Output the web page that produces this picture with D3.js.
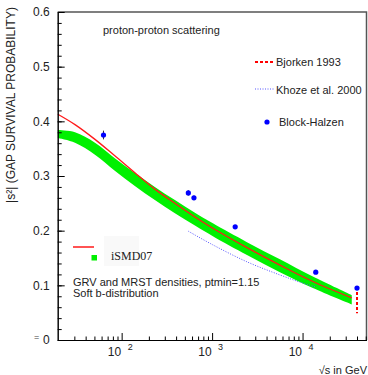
<!DOCTYPE html>
<html lang="en">
<head>
<meta charset="utf-8">
<title>Gap survival probability</title>
<style>
  body { margin: 0; background: #fff; }
  svg { display: block; font-family: "Liberation Sans", Arial, sans-serif; }
</style>
</head>
<body>
<svg width="368" height="375"></svg>
<script src="https://cdn.jsdelivr.net/npm/d3@7"></script>
<script>
// iSMD07 curve and green band
var sqrtS   = [19.7, 30.5, 50.7, 84, 140, 233, 388, 646, 1020, 2430, 5620, 13000, 35000];
var ismdRed = [0.413, 0.394, 0.367, 0.337, 0.306, 0.276, 0.250, 0.225, 0.2045, 0.169, 0.137, 0.107, 0.077];
var bandHi  = [0.384, 0.380, 0.361, 0.3325, 0.3055, 0.280, 0.256, 0.233, 0.2135, 0.179, 0.1476, 0.116, 0.082];
var bandLo  = [0.3695, 0.361, 0.339, 0.3096, 0.2817, 0.256, 0.232, 0.2095, 0.190, 0.1555, 0.124, 0.095, 0.065];

// Khoze et al. 2000
var khozeS   = [546, 1020, 2430, 5620, 9300, 14000];
var khozeGap = [0.199, 0.174, 0.143, 0.119, 0.106, 0.097];

// Block-Halzen points
var bhS   = [63, 546, 630, 1800, 14000, 40000];
var bhGap = [0.375, 0.269, 0.26, 0.207, 0.124, 0.095];
var bhErr = [0.008, 0.005, 0.004, 0.002, 0.002, 0.002];

// Bjorken 1993 range
var bjS = 40000;
var bjRange = [0.049, 0.088];

var yMajor = [0, 0.1, 0.2, 0.3, 0.4, 0.5, 0.6];
var xMajor = [100, 1000, 10000];
var xMinor = [30, 40, 50, 60, 70, 80, 90, 200, 300, 400, 500, 600, 700, 800, 900,
              2000, 3000, 4000, 5000, 6000, 7000, 8000, 9000, 20000, 30000, 40000, 50000];

var svg = d3.select("svg");
var pLeft = 57.7, pRight = 366.5, pTop = 12, pBottom = 340;

var x = d3.scaleLog().domain([Math.pow(10, 1.293), Math.pow(10, 4.707)]).range([pLeft, pRight]);
var y = d3.scaleLinear().domain([0, 0.6]).range([pBottom, pTop]);
var smooth = d3.curveCatmullRom.alpha(0.5);

// frame (top and right, grey)
svg.append("path")
    .attr("d", "M" + pLeft + "," + pTop + "H" + pRight + "V" + pBottom)
    .attr("fill", "none").attr("stroke", "#555").attr("stroke-width", 1.5);

// band
var band = sqrtS.map(function(s, i) { return {s: s, hi: bandHi[i], lo: bandLo[i]}; });
svg.append("path")
    .datum(band)
    .attr("fill", "#00f000")
    .attr("d", d3.area()
      .x(function(d) { return x(d.s); })
      .y0(function(d) { return y(d.lo); })
      .y1(function(d) { return y(d.hi); })
      .curve(smooth));

// Khoze dotted
svg.append("path")
    .datum(khozeS.map(function(s, i) { return [s, khozeGap[i]]; }))
    .attr("fill", "none").attr("stroke", "#5555ff").attr("stroke-width", 1)
    .attr("stroke-dasharray", "1,1.5")
    .attr("d", d3.line()
      .x(function(d) { return x(d[0]); })
      .y(function(d) { return y(d[1]); })
      .curve(smooth));

// red iSMD07 line
svg.append("path")
    .datum(sqrtS.map(function(s, i) { return [s, ismdRed[i]]; }))
    .attr("fill", "none").attr("stroke", "#ff1a1a").attr("stroke-width", 1.3)
    .attr("d", d3.line()
      .x(function(d) { return x(d[0]); })
      .y(function(d) { return y(d[1]); })
      .curve(smooth));

// Bjorken range
svg.append("line")
    .attr("x1", x(bjS)).attr("x2", x(bjS))
    .attr("y1", y(bjRange[1])).attr("y2", y(bjRange[0]))
    .attr("stroke", "#ff0000").attr("stroke-width", 2).attr("stroke-dasharray", "3,2");

// Block-Halzen points
var pts = svg.append("g");
bhS.forEach(function(s, i) {
  pts.append("line")
      .attr("x1", x(s)).attr("x2", x(s))
      .attr("y1", y(bhGap[i] - bhErr[i])).attr("y2", y(bhGap[i] + bhErr[i]))
      .attr("stroke", "#333").attr("stroke-width", 1);
  pts.append("circle")
      .attr("cx", x(s)).attr("cy", y(bhGap[i])).attr("r", 2.6)
      .attr("fill", "#0000ff");
});

// axes
var yAx = svg.append("g").attr("transform", "translate(" + pLeft + ",0)")
    .call(d3.axisLeft(y).tickValues(yMajor).tickSizeInner(-7).tickSizeOuter(0)
      .tickPadding(8).tickFormat(function(d) { return d === 0 ? "0" : d3.format(".1f")(d); }));
svg.append("g").attr("transform", "translate(" + pLeft + ",0)")
    .call(d3.axisLeft(y).tickValues(d3.range(0, 0.6, 0.02)).tickSizeInner(-4).tickSizeOuter(0).tickFormat(""));

svg.append("g").attr("transform", "translate(0," + pBottom + ")")
    .call(d3.axisBottom(x).tickValues(xMajor).tickSizeInner(-7).tickSizeOuter(0).tickFormat(""));
svg.append("g").attr("transform", "translate(0," + pBottom + ")")
    .call(d3.axisBottom(x).tickValues(xMinor).tickSizeInner(-3.5).tickSizeOuter(0).tickFormat(""));

svg.selectAll(".domain").attr("stroke", "#000");
svg.selectAll(".tick line").attr("stroke", "#000");
yAx.selectAll("text").attr("font-size", 12).attr("fill", "#222")
    .attr("font-family", "Liberation Sans, Arial, sans-serif");

// x tick labels 10^n
xMajor.forEach(function(v) {
  svg.append("text").attr("x", x(v) - 0.5).attr("y", 356)
      .attr("text-anchor", "end").attr("font-size", 12).attr("fill", "#222").text("10");
  svg.append("text").attr("x", x(v) + 6).attr("y", 350)
      .attr("font-size", 9).attr("fill", "#222").text(Math.round(Math.log10(v)));
});

svg.append("text").attr("x", 34).attr("y", 340).attr("font-size", 9).attr("fill", "#444").text("=");

svg.append("text").attr("x", 367).attr("y", 374).attr("text-anchor", "end")
    .attr("font-size", 11).attr("fill", "#222").text("\u221As in GeV");

svg.append("text").attr("transform", "translate(15,105) rotate(-90)")
    .attr("text-anchor", "middle").attr("font-size", 12).attr("fill", "#222")
    .text("|s\u00B2| (GAP SURVIVAL PROBABILITY)");

// labels and legend
svg.append("text").attr("x", 103).attr("y", 34).attr("font-size", 11).attr("fill", "#222")
    .text("proton-proton scattering");

svg.append("line").attr("x1", 255).attr("x2", 275).attr("y1", 62).attr("y2", 62)
    .attr("stroke", "#ff0000").attr("stroke-width", 2).attr("stroke-dasharray", "3,2");
svg.append("text").attr("x", 276).attr("y", 66).attr("font-size", 11).attr("fill", "#222").text("Bjorken 1993");

svg.append("line").attr("x1", 255).attr("x2", 275).attr("y1", 89).attr("y2", 89)
    .attr("stroke", "#5555ff").attr("stroke-width", 1).attr("stroke-dasharray", "1,1.5");
svg.append("text").attr("x", 276).attr("y", 94).attr("font-size", 11).attr("fill", "#222").text("Khoze et al. 2000");

svg.append("circle").attr("cx", 267).attr("cy", 122).attr("r", 2.6).attr("fill", "#0000ff");
svg.append("text").attr("x", 279).attr("y", 126).attr("font-size", 11).attr("fill", "#222").text("Block-Halzen");

svg.append("rect").attr("x", 104).attr("y", 236).attr("width", 35).attr("height", 30).attr("fill", "#f9f9f9");
svg.append("line").attr("x1", 73).attr("x2", 94).attr("y1", 247).attr("y2", 247)
    .attr("stroke", "#ff1a1a").attr("stroke-width", 1.5);
svg.append("rect").attr("x", 91.5).attr("y", 255).attr("width", 5.5).attr("height", 5.5).attr("fill", "#00f000");
svg.append("text").attr("x", 111).attr("y", 259.5).attr("font-size", 12)
    .attr("font-family", "Liberation Serif, Times New Roman, serif").attr("fill", "#222").text("iSMD07");

svg.append("text").attr("x", 73).attr("y", 286).attr("font-size", 11).attr("fill", "#222")
    .text("GRV and MRST densities, ptmin=1.15");
svg.append("text").attr("x", 73).attr("y", 297).attr("font-size", 11).attr("fill", "#222")
    .text("Soft b-distribution");
</script>
</body>
</html>
